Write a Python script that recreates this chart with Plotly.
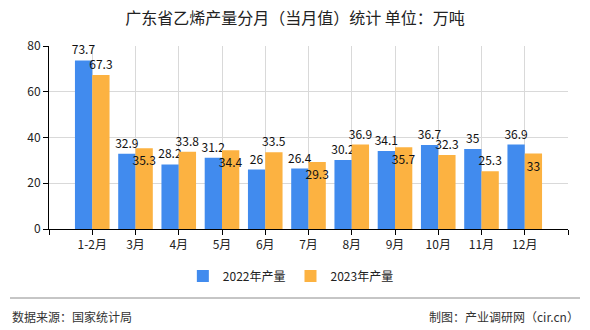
import plotly.graph_objects as go

months = ["1-2月", "3月", "4月", "5月", "6月", "7月", "8月", "9月", "10月", "11月", "12月"]
prod_2022 = [73.7, 32.9, 28.2, 31.2, 26, 26.4, 30.2, 34.1, 36.7, 35, 36.9]
prod_2023 = [67.3, 35.3, 33.8, 34.4, 33.5, 29.3, 36.9, 35.7, 32.3, 25.3, 33]
pos_2022 = ["outside"] * 11
pos_2023 = ["outside", "inside", "outside", "inside", "outside", "inside",
            "outside", "inside", "outside", "outside", "inside"]

FONT = "Noto Sans CJK SC"
xs = list(range(len(months)))

fig = go.Figure()
for name, vals, pos, color in [("2022年产量", prod_2022, pos_2022, "#418BEE"),
                               ("2023年产量", prod_2023, pos_2023, "#FCB241")]:
    fig.add_trace(go.Bar(
        x=xs, y=vals, name=name, marker_color=color, marker_line_width=0,
        text=[f"{v:g}" for v in vals], textposition=pos, textangle=0,
        insidetextanchor="end", constraintext="none",
        textfont=dict(family=FONT, size=12, color="#111"),
        insidetextfont=dict(family=FONT, size=12, color="#111"),
        outsidetextfont=dict(family=FONT, size=12, color="#111"),
        cliponaxis=False,
    ))

fig.update_layout(
    width=590, height=330,
    margin=dict(l=49, r=22, t=46, b=101),
    paper_bgcolor="white", plot_bgcolor="white",
    barmode="group", bargap=0.2, bargroupgap=0,
    uniformtext=dict(minsize=12, mode="show"),
    font=dict(family=FONT, size=12, color="#222"),
    title=dict(text="广东省乙烯产量分月（当月值）统计 单位：万吨", x=0.5, xref="container",
               y=1 - 18 / 330, yanchor="middle",
               font=dict(family=FONT, size=16, color="#222")),
    legend=dict(orientation="h", x=0.466, xanchor="center", y=-0.257, yanchor="middle",
                font=dict(family=FONT, size=12, color="#222"), itemwidth=30,
                traceorder="normal"),
    showlegend=True,
)
fig.update_xaxes(
    range=[-1, 11], tickmode="array", tickvals=list(range(-1, 12)),
    ticktext=[""] + months + [""],
    showgrid=True, gridcolor="#d9d9d9", gridwidth=1,
    showline=True, linecolor="#000", linewidth=1,
    ticks="outside", ticklen=5, tickcolor="#000",
    tickfont=dict(family=FONT, size=12, color="#222"), zeroline=False,
)
fig.update_yaxes(
    range=[0, 80], tickvals=[0, 20, 40, 60, 80],
    showgrid=True, gridcolor="#d9d9d9", gridwidth=1,
    showline=True, linecolor="#000", linewidth=1,
    ticks="outside", ticklen=5, tickcolor="#000",
    tickfont=dict(family=FONT, size=12, color="#222"), zeroline=False,
)

fig.add_shape(type="line", xref="paper", yref="paper",
              x0=(10 - 49) / 519, x1=(580 - 49) / 519,
              y0=-(298 - 229) / 183, y1=-(298 - 229) / 183,
              line=dict(color="#8c8c8c", width=1))
fig.add_annotation(text="数据来源：国家统计局", xref="paper", yref="paper",
                   x=(10 - 49) / 519, y=-(316 - 229) / 183, xanchor="left", yanchor="middle",
                   showarrow=False, font=dict(family=FONT, size=12, color="#333"))
fig.add_annotation(text="制图：产业调研网（cir.cn）", xref="paper", yref="paper",
                   x=(581 - 49) / 519, y=-(316 - 229) / 183, xanchor="right", yanchor="middle",
                   showarrow=False, font=dict(family=FONT, size=12, color="#333"))

fig.write_html("out.html")
